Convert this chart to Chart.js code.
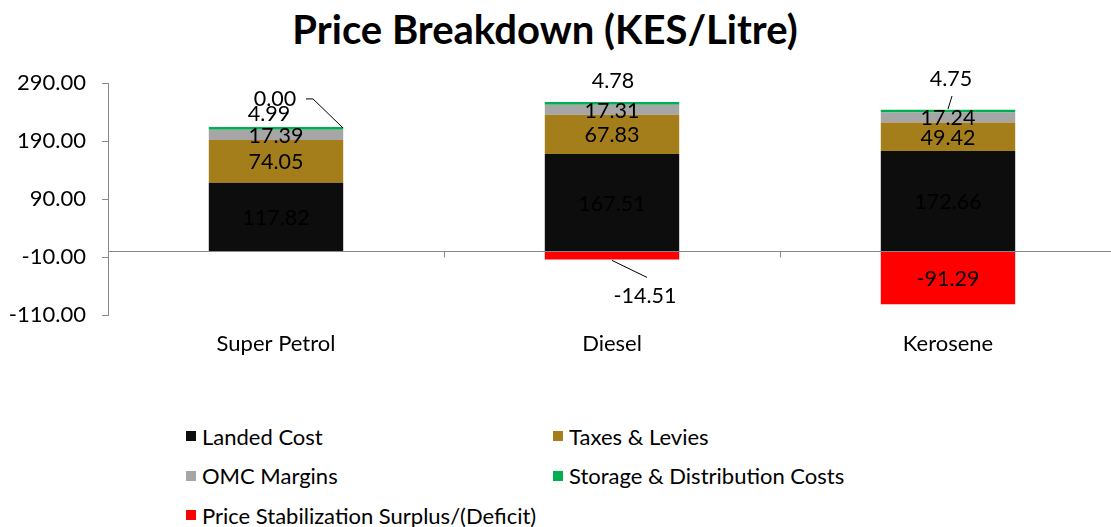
<!DOCTYPE html>
<html>
<head>
    <title>Price Breakdown (KES/Litre)</title>
    <script src="https://cdn.jsdelivr.net/npm/chart.js"></script>
</head>
<body style="margin: 0; background-color: #ffffff; font-family: 'Lato', sans-serif; overflow: hidden; width: 1111px; height: 527px; position: relative;">
    <div id="title" style="position: absolute; left: 0; top: 7px; width: 1090px; text-align: center; font-size: 40px; font-weight: bold; line-height: 44px; color: #000;">Price Breakdown (KES/Litre)</div>
    <canvas id="myChart" width="1116" height="360" style="position: absolute; left: 0; top: 0;"></canvas>
    <div id="legend"></div>

    <script>
        // chart values
        var categories = ['Super Petrol', 'Diesel', 'Kerosene'];
        var landedCost = [117.82, 167.51, 172.66];
        var taxesLevies = [74.05, 67.83, 49.42];
        var omcMargins = [17.39, 17.31, 17.24];
        var storageCosts = [4.99, 4.78, 4.75];
        var stabilization = [0.00, -14.51, -91.29];
        var yTicks = [-110, -10, 90, 190, 290];

        var axisGrey = '#898989';

        // labels that sit outside their (thin) segment, offsets in px
        var labelNudge = {
            '3-0': { dx: -7, dy: -15 },
            '4-0': { dx: -1, dy: -29, leader: [[31, 1], [38, 1], [68, 30]] },
            '3-1': { dx: 1, dy: -23 },
            '4-1': { dx: 33, dy: 40, leader: [[-33, -35], [2, -18]] },
            '3-2': { dx: 3, dy: -33, leader: [[1, 18], [-3, 31]] }
        };

        Chart.defaults.font.family = 'Lato';
        Chart.defaults.color = '#000000';

        // zero line with category tick marks
        var zeroLine = {
            id: 'zeroLine',
            afterDatasetsDraw: function (chart) {
                var ctx = chart.ctx;
                var x = chart.scales.x;
                var y0 = Math.round(chart.scales.y.getPixelForValue(0)) + 0.5;
                ctx.save();
                ctx.strokeStyle = axisGrey;
                ctx.lineWidth = 1;
                ctx.beginPath();
                ctx.moveTo(chart.chartArea.left, y0);
                ctx.lineTo(chart.width, y0);
                for (var i = 1; i < categories.length; i++) {
                    var bx = Math.round((x.getPixelForValue(i - 1) + x.getPixelForValue(i)) / 2) + 0.5;
                    ctx.moveTo(bx, y0);
                    ctx.lineTo(bx, y0 + 6);
                }
                ctx.stroke();
                ctx.restore();
            }
        };

        // value labels
        var valueLabels = {
            id: 'valueLabels',
            afterDatasetsDraw: function (chart) {
                var ctx = chart.ctx;
                ctx.save();
                ctx.font = '21.5px Lato';
                ctx.textAlign = 'center';
                ctx.textBaseline = 'middle';
                ctx.fillStyle = '#000000';
                ctx.strokeStyle = '#000000';
                ctx.lineWidth = 1;
                chart.data.datasets.forEach(function (ds, di) {
                    var meta = chart.getDatasetMeta(di);
                    meta.data.forEach(function (el, i) {
                        var p = el.getProps(['x', 'y', 'base'], true);
                        var lx = p.x;
                        var ly = (p.y + p.base) / 2;
                        var n = labelNudge[di + '-' + i];
                        if (n) {
                            lx += n.dx;
                            ly += n.dy;
                            if (n.leader) {
                                ctx.beginPath();
                                n.leader.forEach(function (pt, k) {
                                    if (k === 0) ctx.moveTo(lx + pt[0], ly + pt[1]);
                                    else ctx.lineTo(lx + pt[0], ly + pt[1]);
                                });
                                ctx.stroke();
                            }
                        }
                        ctx.fillText(ds.data[i].toFixed(2), lx, ly + 1);
                    });
                });
                ctx.restore();
            }
        };

        var ctx = document.getElementById('myChart').getContext('2d');
        var myChart = new Chart(ctx, {
            type: 'bar',
            data: {
                labels: categories,
                datasets: [
                    { label: 'Landed Cost', data: landedCost, backgroundColor: '#0D0D0D' },
                    { label: 'Taxes & Levies', data: taxesLevies, backgroundColor: '#A57E1C' },
                    { label: 'OMC Margins', data: omcMargins, backgroundColor: '#A6A6A6' },
                    { label: 'Storage & Distribution Costs', data: storageCosts, backgroundColor: '#00B050' },
                    { label: 'Price Stabilization Surplus/(Deficit)', data: stabilization, backgroundColor: '#FF0000' }
                ]
            },
            options: {
                responsive: false,
                animation: false,
                categoryPercentage: 0.8,
                barPercentage: 0.5,
                layout: { padding: { top: 83, left: 0, right: 0, bottom: 0 } },
                plugins: {
                    legend: { display: false },
                    title: { display: false },
                    tooltip: { enabled: false }
                },
                scales: {
                    x: {
                        stacked: true,
                        border: { display: false },
                        grid: { display: false, drawTicks: false },
                        ticks: { font: { size: 22 }, padding: 16, color: '#000000' },
                        afterFit: function (scale) { scale.height = 45; }
                    },
                    y: {
                        stacked: true,
                        min: -110,
                        max: 290,
                        border: { display: true, color: axisGrey, width: 1 },
                        grid: { drawOnChartArea: false, drawTicks: true, tickLength: 6, color: axisGrey },
                        ticks: {
                            font: { size: 22 },
                            padding: 16,
                            color: '#000000',
                            callback: function (v) { return Number(v).toFixed(2); }
                        },
                        afterBuildTicks: function (scale) {
                            scale.ticks = yTicks.map(function (v) { return { value: v }; });
                        },
                        afterFit: function (scale) { scale.width = 108; }
                    }
                }
            },
            plugins: [zeroLine, valueLabels]
        });

        // legend, two columns
        var legend = document.getElementById('legend');
        var colLeft = [186, 553];
        myChart.data.datasets.forEach(function (ds, i) {
            var item = document.createElement('div');
            item.style.cssText = 'position:absolute;display:flex;align-items:center;height:26px;font-size:22px;color:#000;white-space:nowrap;';
            item.style.left = colLeft[i % 2] + 'px';
            item.style.top = (423 + Math.floor(i / 2) * 39.5) + 'px';
            var box = document.createElement('span');
            box.style.cssText = 'display:inline-block;width:10px;height:10px;margin-right:6px;';
            box.style.backgroundColor = ds.backgroundColor;
            item.appendChild(box);
            item.appendChild(document.createTextNode(ds.label));
            legend.appendChild(item);
        });
    </script>
</body>
</html>
